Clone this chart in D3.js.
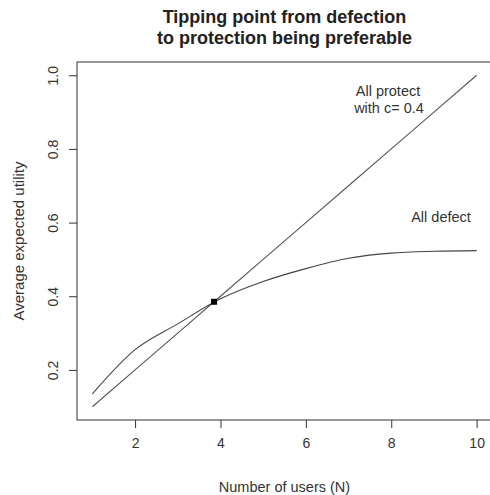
<!DOCTYPE html>
<html>
<head>
<meta charset="utf-8">
<script src="https://cdn.jsdelivr.net/npm/d3@7"></script>
<style>
  body { margin: 0; background: #fff; }
  svg text { font-family: "Liberation Sans", Arial, sans-serif; fill: #333; }
</style>
</head>
<body>
<svg id="chart"></svg>
<script>
// data
var users = [1, 2, 3, 4, 5, 6, 7, 8, 9, 10];
var allProtect = [0.1, 0.2, 0.3, 0.4, 0.5, 0.6, 0.7, 0.8, 0.9, 1.0];
var allDefect = [0.135, 0.255, 0.325, 0.393, 0.440, 0.475, 0.503, 0.517, 0.522, 0.524];
var tippingPoint = [3.85, 0.385];
var xTicks = [2, 4, 6, 8, 10];
var yTicks = [0.2, 0.4, 0.6, 0.8, 1.0];

var titleLines = ["Tipping point from defection", "to protection being preferable"];
var xLabel = "Number of users (N)";
var yLabel = "Average expected utility";

var size = { width: 490, height: 495 };
var plot = { left: 77, right: 492, top: 62, bottom: 420 };

var svg = d3.select("#chart")
  .attr("width", size.width)
  .attr("height", size.height);

// R style limits: data range plus 4%
var x = d3.scaleLinear()
  .domain([0.64, 10.36])
  .range([plot.left, plot.right]);

var y = d3.scaleLinear()
  .domain([0.064, 1.036])
  .range([plot.bottom, plot.top]);

// title
svg.append("g").selectAll("text")
  .data(titleLines)
  .enter()
  .append("text")
  .attr("x", (plot.left + plot.right) / 2)
  .attr("y", function(d, i){ return 23 + i * 21; })
  .attr("text-anchor", "middle")
  .style("font-size", "18px")
  .style("font-weight", "bold")
  .style("fill", "#222")
  .text(function(d){ return d; });

// axes
var xAxis = d3.axisBottom(x)
  .tickValues(xTicks)
  .tickSize(8)
  .tickPadding(10)
  .tickFormat(d3.format("d"));

var gx = svg.append("g")
  .attr("transform", "translate(0," + plot.bottom + ")")
  .call(xAxis);
gx.select(".domain").remove();
gx.selectAll("line").attr("stroke", "#333");
gx.selectAll("text").style("font-size", "14px").style("fill", "#333");

var yAxis = d3.axisLeft(y)
  .tickValues(yTicks)
  .tickSize(8)
  .tickFormat(d3.format(".1f"));

var gy = svg.append("g")
  .attr("transform", "translate(" + plot.left + ",0)")
  .call(yAxis);
gy.select(".domain").remove();
gy.selectAll("line").attr("stroke", "#333");
gy.selectAll("text")
  .attr("x", null)
  .attr("dy", null)
  .attr("transform", "translate(-19,0) rotate(-90)")
  .attr("text-anchor", "middle")
  .style("font-size", "14px")
  .style("fill", "#333");

// box
svg.append("rect")
  .attr("x", plot.left)
  .attr("y", plot.top)
  .attr("width", plot.right - plot.left)
  .attr("height", plot.bottom - plot.top)
  .attr("fill", "none")
  .attr("stroke", "#333")
  .attr("stroke-width", 1);

// axis labels
svg.append("text")
  .attr("x", (plot.left + plot.right) / 2)
  .attr("y", 492)
  .attr("text-anchor", "middle")
  .style("font-size", "14.5px")
  .text(xLabel);

svg.append("text")
  .attr("transform", "translate(24," + (plot.top + plot.bottom) / 2 + ") rotate(-90)")
  .attr("text-anchor", "middle")
  .style("font-size", "15px")
  .text(yLabel);

// lines
var line = d3.line()
  .x(function(d){ return x(d[0]); })
  .y(function(d){ return y(d[1]); });

svg.append("path")
  .datum(d3.zip(users, allProtect))
  .attr("d", line)
  .attr("fill", "none")
  .attr("stroke", "#555")
  .attr("stroke-width", 1.1);

svg.append("path")
  .datum(d3.zip(users, allDefect))
  .attr("d", line.curve(d3.curveMonotoneX))
  .attr("fill", "none")
  .attr("stroke", "#444")
  .attr("stroke-width", 1.1);

// tipping point marker
svg.append("rect")
  .attr("x", x(tippingPoint[0]) - 3)
  .attr("y", y(tippingPoint[1]) - 3)
  .attr("width", 6)
  .attr("height", 6)
  .attr("fill", "#000");

// annotations
svg.append("text")
  .attr("x", 388)
  .attr("y", 96)
  .attr("text-anchor", "middle")
  .style("font-size", "14.5px")
  .text("All protect");

svg.append("text")
  .attr("x", 389)
  .attr("y", 113)
  .attr("text-anchor", "middle")
  .style("font-size", "14.5px")
  .text("with c= 0.4");

svg.append("text")
  .attr("x", 441)
  .attr("y", 222)
  .attr("text-anchor", "middle")
  .style("font-size", "14.5px")
  .text("All defect");
</script>
</body>
</html>
